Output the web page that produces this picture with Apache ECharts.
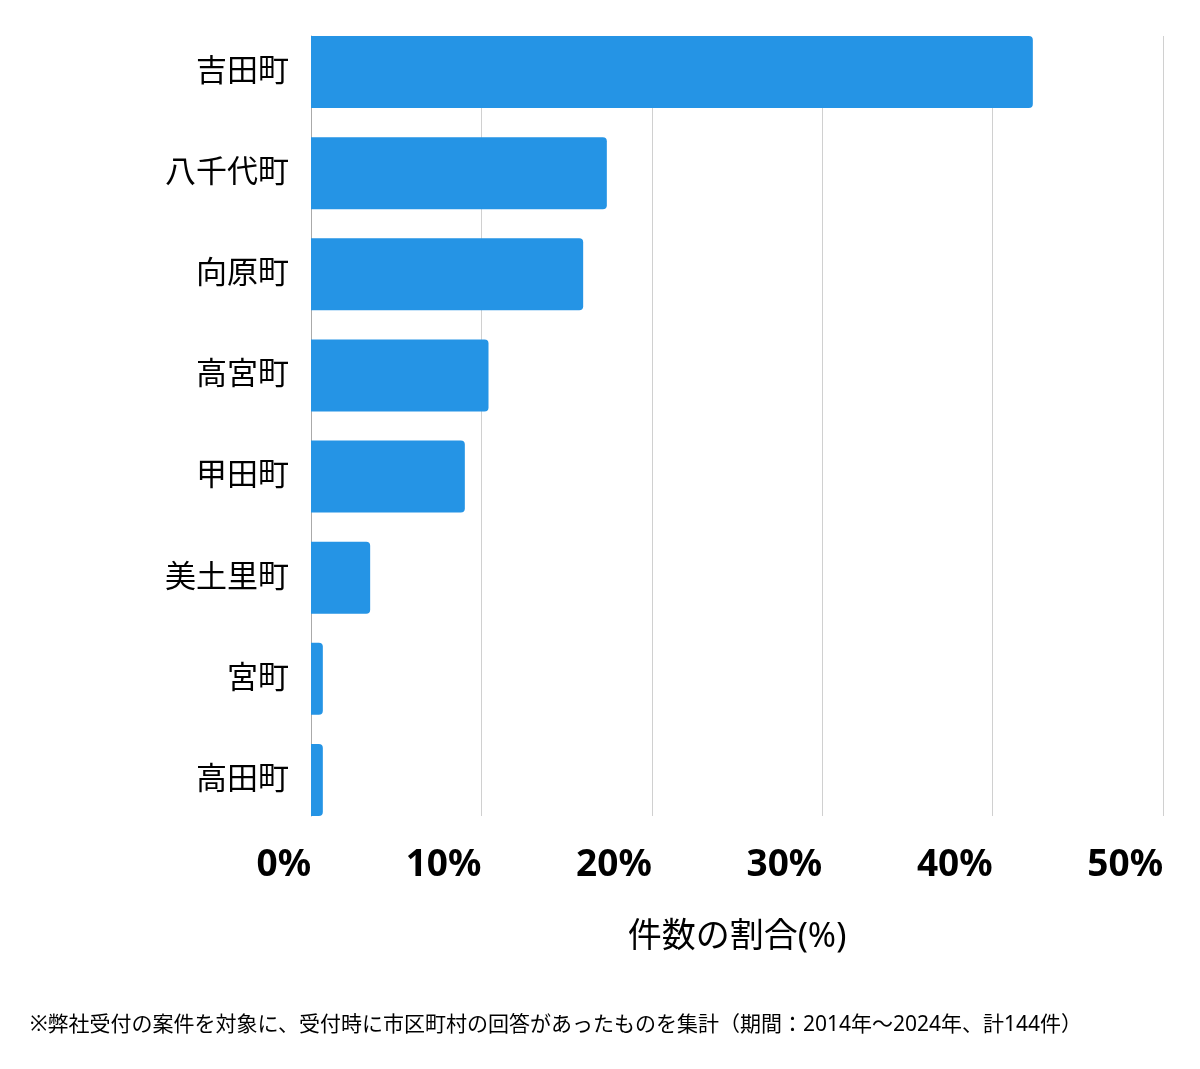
<!DOCTYPE html>
<html><head><meta charset="utf-8">
<script src="https://cdn.jsdelivr.net/npm/echarts@6/dist/echarts.min.js"></script>
<style>html,body{margin:0;padding:0;background:#fff}#c{width:1200px;height:1069px}</style>
</head><body><div id="c"></div>
<script>
const categories = ['吉田町','八千代町','向原町','高宮町','甲田町','美土里町','宮町','高田町'];
const counts = [61, 25, 23, 15, 13, 5, 1, 1];
const total = 144;
const percents = counts.map(c => c / total * 100);
const xTicks = [0, 10, 20, 30, 40, 50];
const axisName = '件数の割合(%)';
const footnote = '※弊社受付の案件を対象に、受付時に市区町村の回答があったものを集計（期間：2014年～2024年、計144件）';

const font = '"Noto Sans", "Noto Sans CJK JP", sans-serif';
const chart = echarts.init(document.getElementById('c'));
chart.setOption({
  animation: false,
  textStyle: { fontFamily: font },
  grid: [
    { left: 311, right: 37, top: 21.5, bottom: 238.5 },
    { left: 311, right: 37, top: 36, bottom: 253 }
  ],
  xAxis: [
    { gridIndex: 0, type: 'value', min: xTicks[0], max: xTicks[xTicks.length - 1], interval: 10, show: false },
    { gridIndex: 1, type: 'value', min: xTicks[0], max: xTicks[xTicks.length - 1], interval: 10,
      axisLine: { show: false }, axisTick: { show: false },
      splitLine: { show: true, lineStyle: { color: '#d0d0d0', width: 1 } },
      axisLabel: { formatter: v => v + '%', fontSize: 37, fontWeight: 'bold', color: '#000',
        align: 'right', margin: 31, fontFamily: font },
      name: axisName, nameLocation: 'middle', nameGap: 104,
      nameTextStyle: { fontSize: 34, color: '#000', fontFamily: font }
    }
  ],
  yAxis: [
    { gridIndex: 0, type: 'category', data: categories, inverse: true,
      axisLine: { show: false }, axisTick: { show: false },
      axisLabel: { fontSize: 31, color: '#000', margin: 22, padding: [4, 0, 0, 0], fontFamily: font } },
    { gridIndex: 1, type: 'category', data: categories, inverse: true,
      axisLine: { show: true, lineStyle: { color: '#aaaaaa', width: 1 } },
      axisTick: { show: false }, axisLabel: { show: false } }
  ],
  series: [{
    type: 'bar', xAxisIndex: 0, yAxisIndex: 0,
    data: percents, barWidth: 72,
    itemStyle: { color: '#2594E5', borderRadius: [0, 4, 4, 0] },
    z: 3
  }],
  graphic: [{
    type: 'text', left: 30, top: 1015,
    style: { text: footnote, fontSize: 21, fill: '#000', fontFamily: font }
  }]
});
</script></body></html>
